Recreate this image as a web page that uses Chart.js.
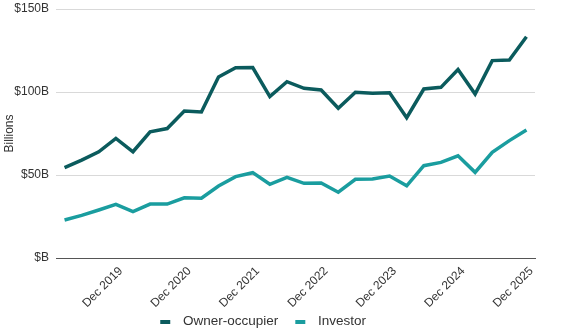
<!DOCTYPE html>
<html>
<head>
<meta charset="utf-8">
<script src="https://cdn.jsdelivr.net/npm/chart.js@4"></script>
<style>
  html, body { margin: 0; padding: 0; background: #fff; }
  #wrap { width: 566px; height: 335px; position: relative; }
</style>
</head>
<body>
<div id="wrap"><canvas id="chart"></canvas></div>
<script>
// quarters Mar 2019 .. Dec 2025
var quarters = [
  'Mar 2019', 'Jun 2019', 'Sep 2019', 'Dec 2019',
  'Mar 2020', 'Jun 2020', 'Sep 2020', 'Dec 2020',
  'Mar 2021', 'Jun 2021', 'Sep 2021', 'Dec 2021',
  'Mar 2022', 'Jun 2022', 'Sep 2022', 'Dec 2022',
  'Mar 2023', 'Jun 2023', 'Sep 2023', 'Dec 2023',
  'Mar 2024', 'Jun 2024', 'Sep 2024', 'Dec 2024',
  'Mar 2025', 'Jun 2025', 'Sep 2025', 'Dec 2025'
];
var ownerOccupier = [54.4, 59, 64, 72, 64, 76, 78, 88.5, 88, 109, 114.6, 114.7, 97.2, 106.2,
  102.2, 101.2, 90.2, 99.8, 99.2, 99.6, 84.5, 101.8, 102.8, 113.6, 98.8, 118.9, 119.3, 133.3];
var investor = [22.9, 25.7, 28.9, 32.3, 27.9, 32.5, 32.5, 36.3, 36, 43.4, 49, 51.4, 44.4, 48.6,
  45, 45.2, 39.6, 47.4, 47.6, 49.4, 43.5, 55.6, 57.6, 61.6, 51.6, 63.7, 70.7, 77.1];
var yTicks = [0, 50, 100, 150];

var font = 'Liberation Sans, Arial, sans-serif';

// legend swatch: blank gap on the left, short bar, small gap before text
function swatch(color) {
  var c = document.createElement('canvas');
  c.width = 26;
  c.height = 4;
  var g = c.getContext('2d');
  g.fillStyle = color;
  g.fillRect(10, 0, 10, 4);
  return c;
}

new Chart(document.getElementById('chart'), {
  type: 'line',
  data: {
    labels: quarters,
    datasets: [{
      label: 'Owner-occupier',
      data: ownerOccupier,
      borderColor: '#0b5b5d',
      backgroundColor: '#0b5b5d',
      borderWidth: 3.5,
      pointRadius: 0,
      tension: 0
    }, {
      label: 'Investor',
      data: investor,
      borderColor: '#1a9d9f',
      backgroundColor: '#1a9d9f',
      borderWidth: 3.5,
      pointRadius: 0,
      tension: 0
    }]
  },
  options: {
    responsive: true,
    maintainAspectRatio: false,
    animation: false,
    layout: { padding: { top: 9, right: 31, left: 0, bottom: 0 } },
    plugins: {
      tooltip: { enabled: false },
      legend: {
        position: 'bottom',
        maxHeight: 27,
        labels: {
          font: { family: font, size: 13.5 },
          color: '#333',
          usePointStyle: true,
          pointStyleWidth: 26,
          boxHeight: 4,
          padding: 7,
          generateLabels: function (chart) {
            var items = Chart.defaults.plugins.legend.labels.generateLabels(chart);
            items.forEach(function (it) {
              it.pointStyle = swatch(it.strokeStyle);
              it.lineWidth = 0;
            });
            // pad the last label so the centred legend sits a bit further left
            items[items.length - 1].text += '     ';
            return items;
          }
        }
      }
    },
    scales: {
      x: {
        offset: true,
        grid: { display: false, drawTicks: false },
        border: { display: true, color: '#555', width: 1 },
        afterFit: function (axis) { axis.height = 50; },
        ticks: {
          autoSkip: false,
          maxRotation: 45,
          minRotation: 45,
          padding: 6,
          labelOffset: 5,
          color: '#333',
          font: { family: font, size: 12 },
          callback: function (val, i) {
            var l = quarters[i];
            return l.indexOf('Dec') === 0 ? l : '';
          }
        }
      },
      y: {
        min: 0,
        max: 150,
        afterBuildTicks: function (axis) {
          axis.ticks = yTicks.map(function (v) { return { value: v }; });
        },
        afterFit: function (axis) { axis.width = 56; axis.paddingTop = 0; },
        border: { display: false },
        grid: {
          color: function (ctx) { return ctx.tick && ctx.tick.value === 0 ? '#555' : '#d9d9d9'; },
          drawTicks: false
        },
        ticks: {
          padding: 7,
          color: '#333',
          font: { family: font, size: 12 },
          callback: function (v) { return '$' + (v === 0 ? '' : v) + 'B'; }
        },
        title: {
          display: true,
          text: 'Billions',
          color: '#333',
          font: { family: font, size: 12 },
          padding: { top: 2, bottom: 0 }
        }
      }
    }
  }
});
</script>
</body>
</html>
